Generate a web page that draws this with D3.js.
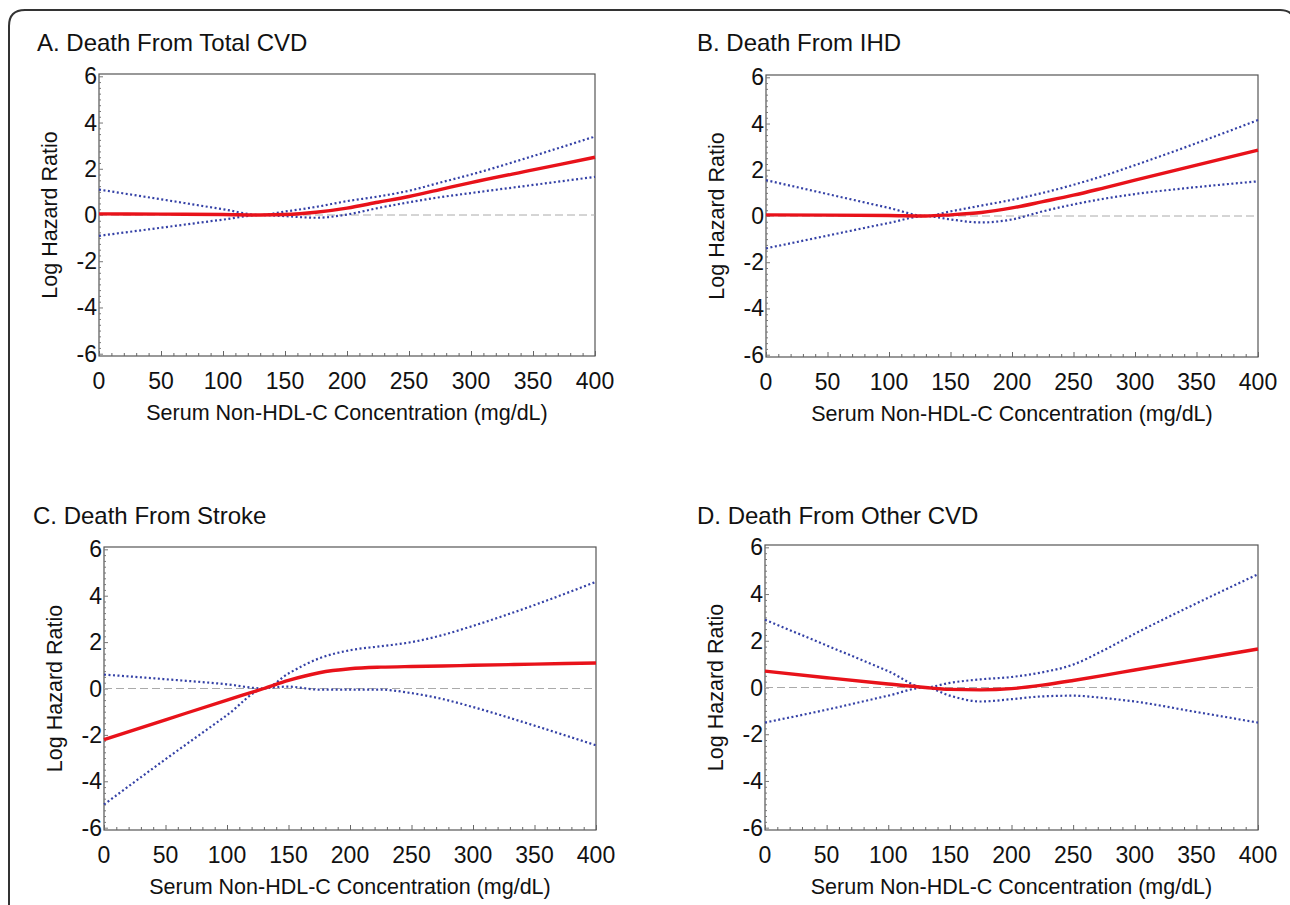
<!DOCTYPE html>
<html lang="en">
<head>
<meta charset="UTF-8">
<title>Non-HDL-C and CVD death</title>
<script src="https://d3js.org/d3.v7.min.js"></script>
<style>
    body { margin: 0; background: #fff; overflow: hidden; }
    svg { display: block; font-family: 'Liberation Sans', Arial, sans-serif; }
    .tick-label { font-size: 23px; fill: #111; }
    .axis-title { font-size: 21.5px; fill: #111; }
    .panel-title { font-size: 24px; fill: #111; }
    .est { fill: none; stroke: #e8121a; stroke-width: 3.4; }
    .ci { fill: none; stroke: #3441a6; stroke-width: 2.2; stroke-dasharray: 2 2.5; }
    .ref { stroke: #aaa; stroke-width: 1; stroke-dasharray: 8 4; }
</style>
</head>
<body>
<svg width="1290" height="905"></svg>
<script>
const xs = [0, 50, 100, 130, 150, 175, 200, 225, 250, 275, 300, 350, 400];

const xTicks = [0, 50, 100, 150, 200, 250, 300, 350, 400];
const yTicks = [-6, -4, -2, 0, 2, 4, 6];

// A. Total CVD
const aEst   = [0.05, 0.04, 0.02, 0, 0.02, 0.12, 0.3, 0.55, 0.8, 1.1, 1.4, 1.95, 2.5];
const aUpper = [1.1, 0.68, 0.25, 0, 0.15, 0.35, 0.6, 0.8, 1.05, 1.4, 1.75, 2.55, 3.4];
const aLower = [-0.9, -0.55, -0.2, 0, -0.05, -0.12, 0.02, 0.3, 0.55, 0.77, 0.95, 1.3, 1.65];

// B. IHD
const bEst   = [0.05, 0.04, 0.02, 0, 0.05, 0.15, 0.35, 0.62, 0.9, 1.22, 1.55, 2.2, 2.85];
const bUpper = [1.55, 0.95, 0.35, 0, 0.2, 0.45, 0.7, 1.0, 1.35, 1.75, 2.2, 3.15, 4.15];
const bLower = [-1.4, -0.85, -0.3, 0, -0.15, -0.28, -0.15, 0.2, 0.5, 0.75, 0.95, 1.25, 1.5];

// C. Stroke
const cEst   = [-2.2, -1.35, -0.5, 0, 0.35, 0.68, 0.85, 0.92, 0.95, 0.97, 1.0, 1.05, 1.1];
const cUpper = [0.6, 0.4, 0.18, 0, 0.65, 1.3, 1.65, 1.82, 2.0, 2.3, 2.7, 3.6, 4.6];
const cLower = [-5.0, -3.05, -1.15, 0, 0.08, -0.05, -0.05, -0.05, -0.2, -0.45, -0.8, -1.6, -2.45];

// D. Other CVD
const dEst   = [0.7, 0.42, 0.15, 0, -0.08, -0.1, -0.05, 0.1, 0.3, 0.52, 0.75, 1.2, 1.65];
const dUpper = [2.9, 1.8, 0.7, 0, 0.2, 0.35, 0.45, 0.65, 0.98, 1.6, 2.3, 3.6, 4.85];
const dLower = [-1.5, -0.95, -0.35, 0, -0.35, -0.6, -0.5, -0.38, -0.35, -0.45, -0.6, -1.05, -1.5];

const panels = [
    { title: "A. Death From Total CVD", est: aEst, upper: aUpper, lower: aLower,
      box: { l: 99, r: 595, t: 74, b: 356 }, titleX: 37, titleY: 51 },
    { title: "B. Death From IHD", est: bEst, upper: bUpper, lower: bLower,
      box: { l: 766, r: 1258, t: 75, b: 357 }, titleX: 697, titleY: 51 },
    { title: "C. Death From Stroke", est: cEst, upper: cUpper, lower: cLower,
      box: { l: 104, r: 596, t: 547, b: 830 }, titleX: 33, titleY: 524 },
    { title: "D. Death From Other CVD", est: dEst, upper: dUpper, lower: dLower,
      box: { l: 765, r: 1258, t: 545, b: 830 }, titleX: 697, titleY: 524 }
];

const svg = d3.select("svg");

// outer frame, open at the bottom, right side just off the page
svg.append("path")
    .attr("d", "M9,910 L9,26 Q9,10 25,10 L1280,10 Q1295,10 1295,26 L1295,910")
    .attr("fill", "none")
    .attr("stroke", "#333")
    .attr("stroke-width", 2);

panels.forEach(p => {
    const b = p.box;
    const x = d3.scaleLinear().domain([0, 400]).range([b.l, b.r]);
    const y = d3.scaleLinear().domain([-6.1, 6.1]).range([b.b, b.t]);
    const g = svg.append("g");

    g.append("text").attr("class", "panel-title")
        .attr("x", p.titleX).attr("y", p.titleY).text(p.title);

    // plot frame
    g.append("rect")
        .attr("x", b.l).attr("y", b.t)
        .attr("width", b.r - b.l).attr("height", b.b - b.t)
        .attr("fill", "none").attr("stroke", "#555").attr("stroke-width", 1.2);

    // x axis, ticks pointing inward
    const xAxis = d3.axisBottom(x).tickValues(d3.range(0, 401, 10))
        .tickSize(-3).tickFormat("");
    g.append("g").attr("transform", `translate(0,${b.b})`).call(xAxis)
        .call(s => s.select(".domain").remove())
        .call(s => s.selectAll("line").attr("stroke", "#666")
            .attr("y2", d => d % 50 === 0 ? -5 : -3));
    g.selectAll(".xl").data(xTicks).join("text")
        .attr("class", "tick-label")
        .attr("x", d => x(d)).attr("y", b.b + 33)
        .attr("text-anchor", "middle").text(d => d);

    // y axis, dense inward ticks
    const yAxis = d3.axisLeft(y).tickValues(d3.range(-6, 6.01, 0.25))
        .tickSize(-2).tickFormat("");
    g.append("g").attr("transform", `translate(${b.l},0)`).call(yAxis)
        .call(s => s.select(".domain").remove())
        .call(s => s.selectAll("line").attr("stroke", "#777")
            .attr("x2", d => Math.abs(d % 2) < 1e-9 ? 4 : 2));
    g.selectAll(".yl").data(yTicks).join("text")
        .attr("class", "tick-label")
        .attr("x", b.l - 2).attr("y", d => y(d) + 8)
        .attr("text-anchor", "end").text(d => d);

    // axis titles
    g.append("text").attr("class", "axis-title")
        .attr("x", (b.l + b.r) / 2).attr("y", b.b + 64)
        .attr("text-anchor", "middle")
        .text("Serum Non-HDL-C Concentration (mg/dL)");
    g.append("text").attr("class", "axis-title")
        .attr("transform", `translate(${b.l - 42},${(b.t + b.b) / 2}) rotate(-90)`)
        .attr("text-anchor", "middle")
        .text("Log Hazard Ratio");

    // reference line at 0
    g.append("line").attr("class", "ref")
        .attr("x1", b.l).attr("x2", b.r)
        .attr("y1", y(0)).attr("y2", y(0));

    const line = d3.line()
        .x((d, i) => x(xs[i]))
        .y(d => y(d))
        .curve(d3.curveMonotoneX);

    g.append("path").attr("class", "ci").attr("d", line(p.upper));
    g.append("path").attr("class", "ci").attr("d", line(p.lower));
    g.append("path").attr("class", "est").attr("d", line(p.est));
});
</script>
</body>
</html>
